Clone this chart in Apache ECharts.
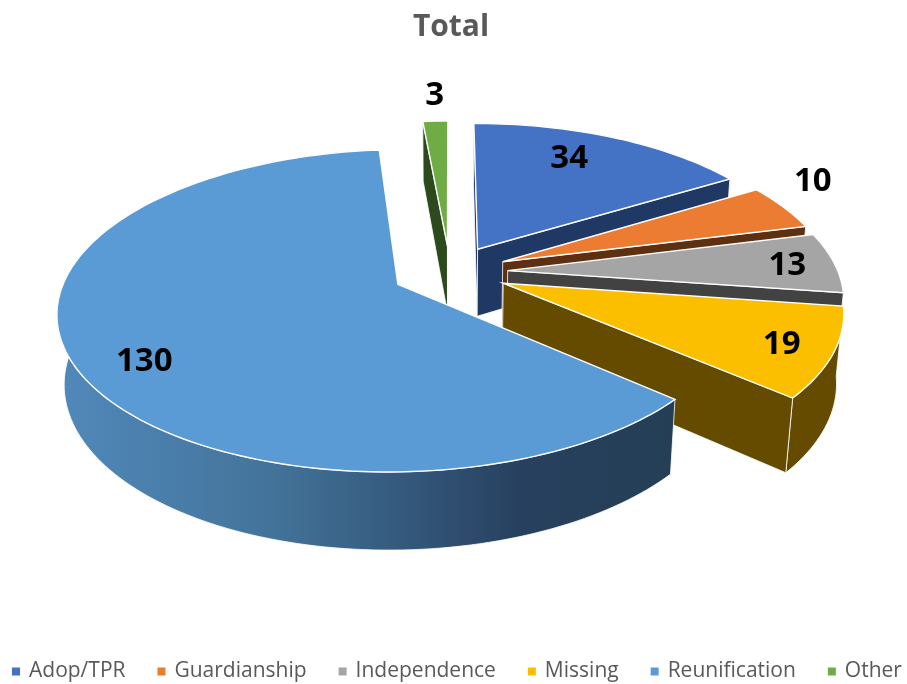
<!DOCTYPE html>
<html>
<head>
<meta charset="utf-8">
<style>html,body{margin:0;padding:0;background:#fff}#c{width:907px;height:684px}</style>
<script src="https://cdn.jsdelivr.net/npm/echarts@6/dist/echarts.min.js"></script>
</head>
<body>
<div id="c"></div>
<script>
const categories = ['Adop/TPR', 'Guardianship', 'Independence', 'Missing', 'Reunification', 'Other'];
const values = [34, 10, 13, 19, 130, 3];

// styling
const topColors = ['#4472c4', '#ec7c31', '#a5a5a5', '#fcbf00', '#5b9bd5', '#6fac46'];
const wallColors = ['#203864', '#5f2f12', '#424242', '#644b00', '#2b4a66', '#2c4a1c'];
const paintOrder = [1, 2, 3, 4, 5, 0];      // z rank per category (back to front)
const labelRadius = [0.777, 1.216, 0.859, 0.855, 0.82, 1.259];
const labelFrac = [0.427, 0.11, 0.5, 0.5, 0.474, 0.6];
const explode = 0.175;
const view = { cx: 450, cy: 272, rx: 330.5, ry: 152.9, k: 0.1615, m: 0.018, h: 69.5 };

const total = values.reduce((a, b) => a + b, 0);
const startFrac = values.map((_, i) => values.slice(0, i).reduce((a, b) => a + b, 0) / total);

function project(u, v, z) {
  const w = 1 + view.k * v + view.m * z;
  return [view.cx + view.rx * u / w, view.cy + (-view.ry * v + view.h * z) / w];
}

function signedArea(pts) {
  let s = 0;
  pts.forEach((p, j) => {
    const q = pts[(j + 1) % pts.length];
    s += p[0] * q[1] - q[0] * p[1];
  });
  return s;
}

function sliceShapes(i, value) {
  const a0 = startFrac[i] * 2 * Math.PI;
  const a1 = a0 + value / total * 2 * Math.PI;
  const mid = (a0 + a1) / 2;
  const eu = explode * Math.sin(mid), ev = explode * Math.cos(mid);
  const rim = (t, z, r = 1) => project(eu + r * Math.sin(t), ev + r * Math.cos(t), z);
  const steps = Math.max(4, Math.ceil((a1 - a0) * 40));
  const top = [], bot = [];
  for (let s = 0; s <= steps; s++) {
    const t = a0 + (a1 - a0) * s / steps;
    top.push(rim(t, 0));
    bot.push(rim(t, 1));
  }
  const apexT = project(eu, ev, 0), apexB = project(eu, ev, 1);
  const wallFill = i === 4 ? {
    type: 'linear', x: 0, y: 0, x2: 1, y2: 0,
    colorStops: [
      { offset: 0, color: '#5189bb' }, { offset: 0.35, color: '#437399' },
      { offset: 0.55, color: '#355a7e' }, { offset: 0.75, color: '#27405f' },
      { offset: 1, color: '#243f55' }
    ]
  } : wallColors[i];
  const wallLine = { fill: wallColors[i], stroke: '#ffffff', lineWidth: 0.8 };
  const poly = (pts, style) => ({ type: 'polygon', shape: { points: pts }, style });
  const lp = rim(a0 + (a1 - a0) * labelFrac[i], 0, labelRadius[i]);
  const wall0 = [apexT, top[0], bot[0], apexB];
  const wall1 = [apexT, top[steps], bot[steps], apexB];
  const children = [poly(top.concat(bot.slice().reverse()), { fill: wallFill, stroke: '#ffffff', lineWidth: 0.8 })];
  if (signedArea(wall0) < 0) children.push(poly(wall0, wallLine));
  if (signedArea(wall1) > 0) children.push(poly(wall1, wallLine));
  children.push(poly([apexT].concat(top), { fill: topColors[i], stroke: '#ffffff', lineWidth: 1.4 }));
  children.push({
    type: 'text', x: lp[0] - 1, y: lp[1] + 2, z2: 10,
    style: {
      text: String(value), fill: '#000000', align: 'center', verticalAlign: 'middle',
      font: 'bold 33px "Open Sans", sans-serif'
    }
  });
  return { type: 'group', children };
}

const chart = echarts.init(document.getElementById('c'), null, { renderer: 'canvas' });
chart.setOption({
  animation: false,
  backgroundColor: '#ffffff',
  title: {
    text: 'Total', left: 446, top: 7, textAlign: 'center',
    textStyle: { color: '#595959', fontFamily: 'Open Sans', fontWeight: 'bold', fontSize: 30 }
  },
  legend: {
    data: categories, left: 12, top: 661, width: 895, padding: 0, icon: 'rect', itemWidth: 8, itemHeight: 8,
    itemGap: 32, selectedMode: false,
    textStyle: { color: '#595959', fontFamily: 'Open Sans', fontSize: 21, padding: [0, 0, 0, 4] }
  },
  series: categories.map((name, i) => ({
    type: 'custom', name, coordinateSystem: 'none', silent: true, z: 2 + paintOrder[i],
    itemStyle: { color: topColors[i] },
    data: [[values[i]]],
    renderItem: (params, api) => sliceShapes(i, api.value(0))
  }))
});
</script>
</body>
</html>
